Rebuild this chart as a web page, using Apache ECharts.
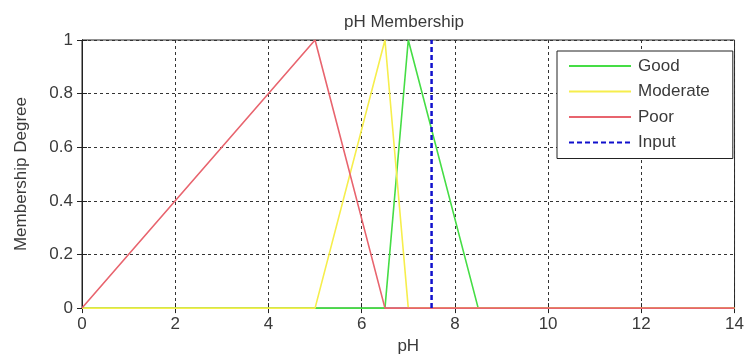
<!DOCTYPE html>
<html>
<head>
<meta charset="utf-8">
<script src="https://cdn.jsdelivr.net/npm/echarts@6/dist/echarts.min.js"></script>
<style>
  html, body { margin: 0; padding: 0; background: #fff; }
  #chart { width: 747px; height: 360px; }
</style>
</head>
<body>
<div id="chart"></div>
<script>
// Membership functions for pH, as breakpoints [pH, degree]
const goodX = [0, 6.5, 7, 8.5, 14];
const goodY = [0, 0, 1, 0, 0];
const moderateX = [0, 5, 6.5, 7, 14];
const moderateY = [0, 0, 1, 0, 0];
const poorX = [0, 5, 6.5, 14];
const poorY = [0, 1, 0, 0];
const inputX = [7.5, 7.5];
const inputY = [0, 1];

const xTicks = { min: 0, max: 14, interval: 2 };
const yTicks = { min: 0, max: 1, interval: 0.2 };

function pairs(xs, ys) { return xs.map((x, i) => [x, ys[i]]); }

const FONT = 'Liberation Sans, Arial, sans-serif';
const TEXT = '#3a3a3a';

const gridLine = { show: true, lineStyle: { color: '#333', width: 1, type: [3, 3] } };

const chart = echarts.init(document.getElementById('chart'), null, { renderer: 'canvas' });
chart.setOption({
  backgroundColor: '#fff',
  animation: false,
  title: {
    text: 'pH Membership',
    left: 339, top: 9,
    textStyle: { fontFamily: FONT, fontSize: 17, fontWeight: 'normal', color: TEXT }
  },
  grid: { left: 82, right: 9, top: 40, bottom: 50, show: true, borderColor: '#222', borderWidth: 1, backgroundColor: '#fff' },
  legend: {
    orient: 'vertical',
    left: 557, top: 51,
    padding: [5, 23, 6, 11],
    itemWidth: 62, itemHeight: 14, itemGap: 5.5,
    backgroundColor: '#fff',
    borderColor: '#222', borderWidth: 1,
    itemStyle: { opacity: 0 },
    textStyle: { fontFamily: FONT, fontSize: 17, color: TEXT, lineHeight: 20, padding: [0, 0, 0, 2] },
    data: ['Good', 'Moderate', 'Poor', 'Input']
  },
  xAxis: [{
    type: 'value', min: xTicks.min, max: xTicks.max, interval: xTicks.interval,
    name: 'pH', nameLocation: 'middle', nameGap: 28,
    nameTextStyle: { fontFamily: FONT, fontSize: 17, color: TEXT },
    axisLine: { show: true, lineStyle: { color: '#222' } },
    axisTick: { show: true, inside: true, length: 5, lineStyle: { color: '#222' } },
    axisLabel: { fontFamily: FONT, fontSize: 17, color: TEXT, margin: 8 },
    splitLine: gridLine
  }, {
    type: 'value', position: 'top', min: xTicks.min, max: xTicks.max, interval: xTicks.interval,
    axisLine: { show: true, lineStyle: { color: '#222' } },
    axisTick: { show: true, inside: true, length: 5, lineStyle: { color: '#222' } },
    axisLabel: { show: false }, splitLine: { show: false }
  }],
  yAxis: [{
    type: 'value', min: yTicks.min, max: yTicks.max, interval: yTicks.interval,
    name: 'Membership Degree', nameLocation: 'middle', nameGap: 52,
    nameTextStyle: { fontFamily: FONT, fontSize: 17, color: TEXT },
    axisLine: { show: true, lineStyle: { color: '#222' } },
    axisTick: { show: true, inside: true, length: 5, lineStyle: { color: '#222' } },
    axisLabel: { fontFamily: FONT, fontSize: 17, color: TEXT, margin: 9 },
    splitLine: gridLine
  }, {
    type: 'value', position: 'right', min: yTicks.min, max: yTicks.max, interval: yTicks.interval,
    axisLine: { show: true, lineStyle: { color: '#222' } },
    axisTick: { show: true, inside: true, length: 5, lineStyle: { color: '#222' } },
    axisLabel: { show: false }, splitLine: { show: false }
  }],
  series: [
    { name: 'Good', type: 'line', symbol: 'none', data: pairs(goodX, goodY),
      lineStyle: { color: '#45dd45', width: 1.6 }, itemStyle: { color: '#45dd45' } },
    { name: 'Moderate', type: 'line', symbol: 'none', data: pairs(moderateX, moderateY),
      lineStyle: { color: '#f6ee4c', width: 1.6 }, itemStyle: { color: '#f6ee4c' } },
    { name: 'Poor', type: 'line', symbol: 'none', data: pairs(poorX, poorY),
      lineStyle: { color: '#e8646e', width: 1.6 }, itemStyle: { color: '#e8646e' } },
    { name: 'Input', type: 'line', symbol: 'none', data: pairs(inputX, inputY),
      lineStyle: { color: '#1010cc', width: 2.5, type: [5, 3] }, itemStyle: { color: '#1010cc' } }
  ]
});
</script>
</body>
</html>
